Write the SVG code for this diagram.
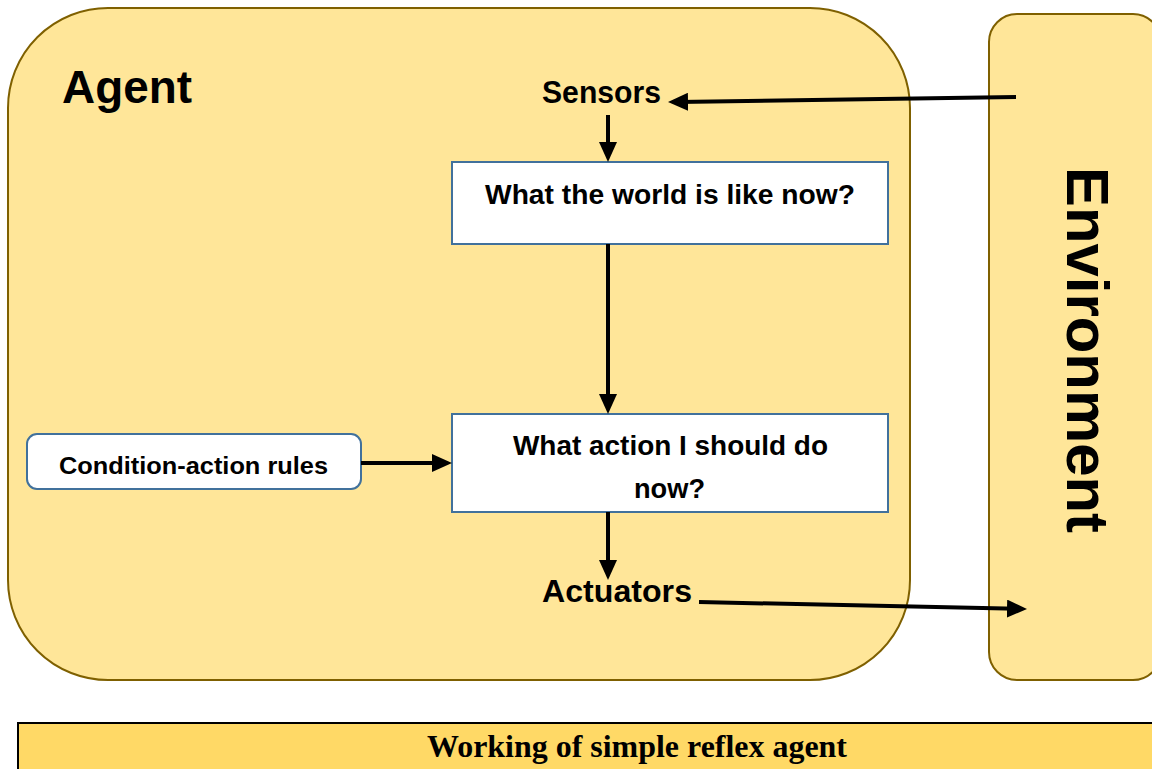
<svg xmlns="http://www.w3.org/2000/svg" width="1152" height="769" viewBox="0 0 1152 769">
<defs>
<style>
.container{fill:#FFE699;stroke:#7F6000;stroke-width:2}
.box{fill:#FFFFFF;stroke:#41719C;stroke-width:2}
.lbl{font-family:"Liberation Sans",Arial,sans-serif;font-weight:bold;fill:#000}
.conn{stroke:#000;stroke-width:4;fill:none}
</style>
<marker id="ah" markerUnits="userSpaceOnUse" markerWidth="20" markerHeight="18" refX="10" refY="9" orient="auto">
<path d="M0,0 L20,9 L0,18 z" fill="#000"/>
</marker>
</defs>
<rect width="1152" height="769" fill="#FFFFFF"/>
<g id="agent">
<rect class="container" x="8" y="8" width="902" height="672" rx="100" ry="100"/>
<text class="lbl" x="62" y="103" font-size="46" textLength="130" lengthAdjust="spacingAndGlyphs">Agent</text>
</g>
<g id="environment">
<rect class="container" x="989" y="14" width="172" height="666" rx="28" ry="28"/>
<text class="lbl" transform="translate(1067,167) rotate(90)" x="0" y="0" font-size="60" textLength="366" lengthAdjust="spacingAndGlyphs">Environment</text>
</g>
<g id="sensors">
<text class="lbl" x="542" y="103" font-size="32" textLength="119" lengthAdjust="spacingAndGlyphs">Sensors</text>
</g>
<g id="world-now">
<rect class="box" x="452" y="162" width="436" height="82"/>
<text class="lbl" x="670" y="204" font-size="28" text-anchor="middle" textLength="370" lengthAdjust="spacingAndGlyphs">What the world is like now?</text>
</g>
<g id="action-now">
<rect class="box" x="452" y="414" width="436" height="98"/>
<text class="lbl" x="670.5" y="455" font-size="28" text-anchor="middle" textLength="315" lengthAdjust="spacingAndGlyphs">What action I should do</text>
<text class="lbl" x="669.5" y="498" font-size="28" text-anchor="middle" textLength="71" lengthAdjust="spacingAndGlyphs">now?</text>
</g>
<g id="rules">
<rect class="box" x="27" y="434" width="334" height="55" rx="10" ry="10"/>
<text class="lbl" x="193.5" y="474" font-size="24" text-anchor="middle" textLength="269" lengthAdjust="spacingAndGlyphs">Condition-action rules</text>
</g>
<g id="connectors">
<line class="conn" x1="1016" y1="97" x2="678" y2="101.9" marker-end="url(#ah)"/>
<line class="conn" x1="608" y1="115" x2="608" y2="152" marker-end="url(#ah)"/>
<line class="conn" x1="608" y1="244" x2="608" y2="404" marker-end="url(#ah)"/>
<line class="conn" x1="361" y1="463" x2="442" y2="463" marker-end="url(#ah)"/>
<line class="conn" x1="608" y1="512" x2="608" y2="570" marker-end="url(#ah)"/>
<line class="conn" x1="699" y1="602" x2="1017" y2="608.8" marker-end="url(#ah)"/>
</g>
<g id="actuators">
<text class="lbl" x="542" y="602" font-size="32" textLength="150" lengthAdjust="spacingAndGlyphs">Actuators</text>
</g>
<g id="caption">
<rect x="18" y="723" width="1150" height="60" fill="#FFD966" stroke="#000" stroke-width="2"/>
<text x="637" y="757" font-family="'Liberation Serif','Times New Roman',serif" font-weight="bold" font-size="31" text-anchor="middle" textLength="420" lengthAdjust="spacingAndGlyphs">Working of simple reflex agent</text>
</g>
</svg>
